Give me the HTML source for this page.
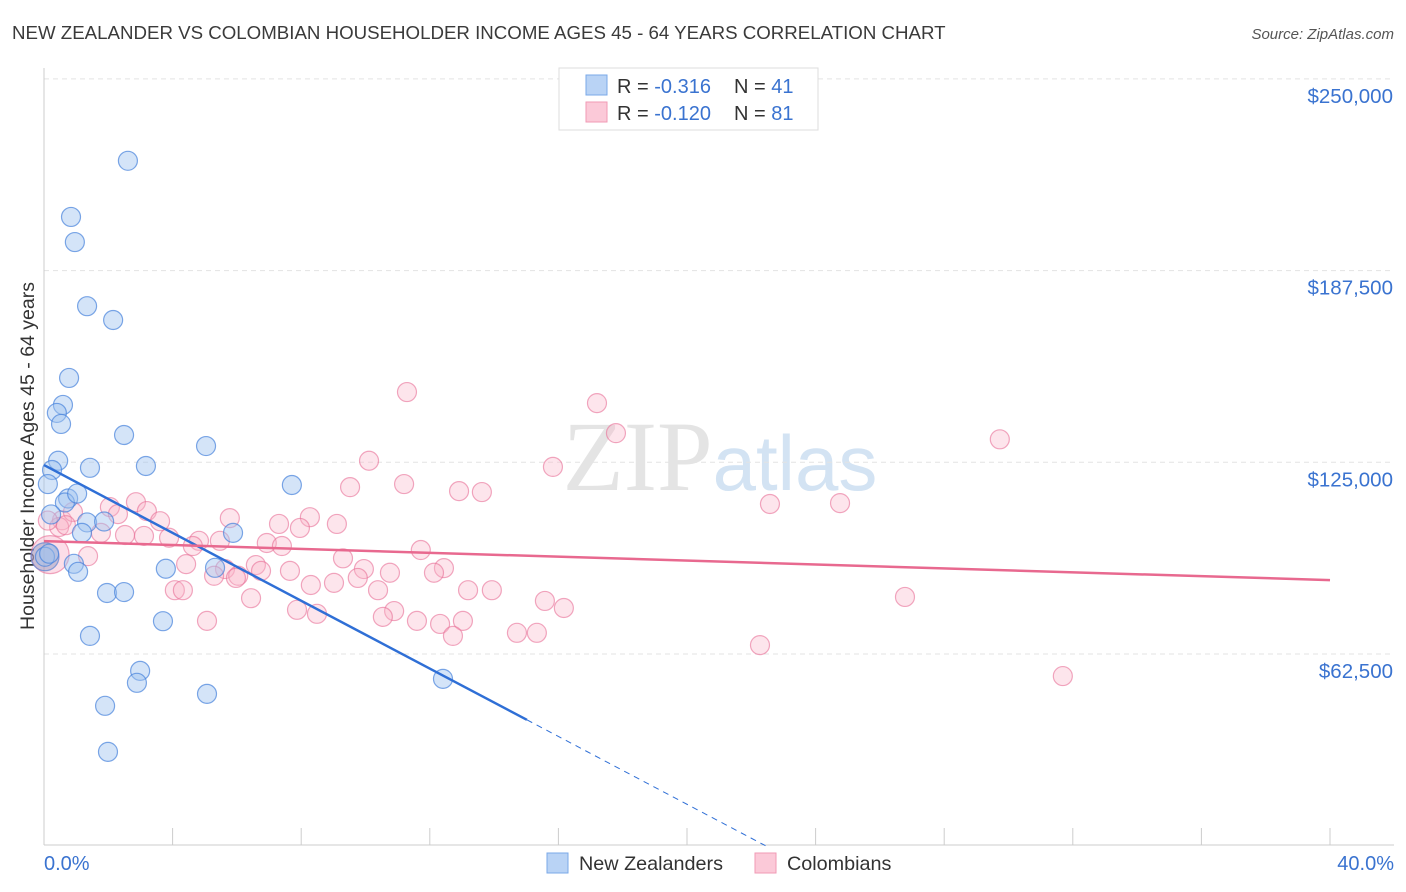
<!DOCTYPE html>
<html><head><meta charset="utf-8"><style>
body{margin:0;background:#fff;font-family:"Liberation Sans",sans-serif;}
svg{display:block}
</style></head><body>
<svg id="chart" width="1406" height="892" xmlns="http://www.w3.org/2000/svg">
<text x="12" y="39" font-size="18.7" fill="#3a3a3a">NEW ZEALANDER VS COLOMBIAN HOUSEHOLDER INCOME AGES 45 - 64 YEARS CORRELATION CHART</text>
<text x="1394" y="39" font-size="15" fill="#555" text-anchor="end" font-style="italic">Source: ZipAtlas.com</text>
<text x="720" y="490" font-size="100" text-anchor="middle" fill="#e4e4e4" font-family="Liberation Serif">ZIP<tspan fill="#d3e3f3" font-family="Liberation Sans" font-size="78">atlas</tspan></text>
<text transform="translate(34,456) rotate(-90)" font-size="19.5" fill="#333" text-anchor="middle">Householder Income Ages 45 - 64 years</text>
<g id="grid"></g><g id="axes"></g><g id="pts"></g><g id="lines"></g>
<g>
<rect x="559" y="68" width="259" height="62" fill="#fff" stroke="#ddd"/>
<rect x="586" y="75" width="21" height="20" fill="#b9d3f5" stroke="#7aa8e8"/>
<rect x="586" y="102" width="21" height="20" fill="#fbc9d8" stroke="#f09ab5"/>
<text x="617" y="93" font-size="20" fill="#333">R = <tspan fill="#3a73d0">-0.316</tspan><tspan x="734">N = </tspan><tspan fill="#3a73d0">41</tspan></text>
<text x="617" y="120" font-size="20" fill="#333">R = <tspan fill="#3a73d0">-0.120</tspan><tspan x="734">N = </tspan><tspan fill="#3a73d0">81</tspan></text>
</g>
<g>
<rect x="547" y="853" width="21" height="20" fill="#b9d3f5" stroke="#7aa8e8"/>
<text x="579" y="870" font-size="19.8" fill="#333">New Zealanders</text>
<rect x="755" y="853" width="21" height="20" fill="#fbc9d8" stroke="#f09ab5"/>
<text x="787" y="870" font-size="19.8" fill="#333">Colombians</text>
</g>
</svg>
<script>
const yTicks=[62500,125000,187500,250000];
const yTickLabels=["$62,500","$125,000","$187,500","$250,000"];
const xTicks=[0,4,8,12,16,20,24,28,32,36,40];
const blueX=[2.61,0.84,0.96,1.34,2.15,0.78,0.59,0.40,0.53,2.49,5.04,0.44,1.43,3.17,0.25,0.12,7.71,0.75,0.65,1.03,0.22,1.34,1.87,1.18,5.88,0.03,0.16,0.93,1.06,3.79,5.32,1.96,2.49,3.70,1.43,2.99,2.89,5.07,12.41,1.90,1.99];
const blueY=[223.3,205.0,196.8,175.9,171.4,152.5,143.7,141.1,137.5,133.9,130.3,125.5,123.2,123.8,122.5,117.9,117.6,113.2,111.9,114.8,108.0,105.4,105.7,102.0,102.0,94.2,95.2,91.9,89.3,90.3,90.6,82.4,82.7,73.2,68.4,57.0,53.1,49.5,54.4,45.6,30.6];
const pinkX=[11.29,17.20,17.79,29.73,10.11,15.83,11.20,9.52,12.91,13.62,22.58,24.76,2.86,3.20,2.05,2.30,5.78,8.27,3.61,9.11,7.31,7.96,0.56,0.47,0.90,1.77,3.11,3.89,2.52,4.82,5.47,4.63,6.93,7.40,11.72,9.30,1.37,4.42,6.59,5.63,6.75,9.95,12.44,7.65,5.29,6.04,9.76,10.76,12.13,9.02,8.30,5.97,4.07,4.32,10.39,13.19,13.93,6.44,15.58,26.78,16.17,7.87,8.49,10.89,10.54,5.07,11.60,12.32,13.03,12.72,14.71,15.33,22.27,31.69,0.12,0.68];
const pinkY=[147.9,144.3,134.5,132.5,125.5,123.5,117.9,116.9,115.6,115.3,111.4,111.7,112.0,109.1,110.4,108.1,106.8,107.1,105.8,104.9,104.9,103.6,106.1,103.9,108.8,102.0,101.0,100.4,101.3,99.4,99.4,97.7,98.7,97.7,96.4,93.7,94.4,91.8,91.5,90.2,89.6,90.2,90.5,89.6,88.0,88.0,87.3,89.0,89.0,85.7,85.0,87.3,83.3,83.3,83.3,83.3,83.3,80.7,79.8,81.1,77.5,76.9,75.6,76.5,74.6,73.3,73.3,72.3,73.3,68.4,69.4,69.4,65.4,55.3,106,104.5];
const bigBlue=[0.03,94.2];const bigPink=[0.19,94.9];
const blueFit=[124.1,-5.53];const pinkFit=[99.3,-0.3175];
const NS='http://www.w3.org/2000/svg';
const sx=v=>44+v/40*1286, sy=v=>845.7-v/62.5*191.7;
function mk(tag,attrs,parent){const e=document.createElementNS(NS,tag);for(const k in attrs)e.setAttribute(k,attrs[k]);parent.appendChild(e);return e;}
const g=document.getElementById('grid'),ax=document.getElementById('axes'),P=document.getElementById('pts'),L=document.getElementById('lines');
yTicks.forEach((t,i)=>{const y=sy(t/1000);
 const l=mk('line',{x1:44,x2:1394,y1:y,y2:y,stroke:'#e3e3e3','stroke-dasharray':'5,4'},g);
 
 const tx=mk('text',{x:1393,y:y+24,'font-size':20.5,fill:'#3a73d0','text-anchor':'end'},ax);tx.textContent=yTickLabels[i];
 });
const xa=mk('line',{x1:44,x2:1394,y1:845,y2:845,stroke:'#ccc'},ax);

const ya=mk('line',{x1:44,x2:44,y1:68,y2:845,stroke:'#ccc'},ax);

xTicks.forEach(t=>{const x=sx(t);const l=mk('line',{x1:x,x2:x,y1:828,y2:845,stroke:'#ccc'},ax);
 });
const xl0=mk('text',{x:44,y:870,'font-size':20,fill:'#3a73d0'},ax);xl0.textContent='0.0%';

const xl1=mk('text',{x:1394,y:870,'font-size':20,fill:'#3a73d0','text-anchor':'end'},ax);xl1.textContent='40.0%';

function dot(x,y,r,c,s,name){const e=mk('circle',{cx:sx(x),cy:sy(y),r:r,fill:c,stroke:s,'stroke-width':1.2},P);
 }
dot(bigPink[0],bigPink[1],19,'rgba(246,160,190,0.35)','rgba(232,110,150,0.6)','colombian-point');
dot(bigBlue[0],bigBlue[1],14,'rgba(140,150,190,0.45)','rgba(90,130,210,0.7)','new-zealander-point');
pinkX.forEach((x,i)=>dot(x,pinkY[i],9.5,'rgba(248,180,200,0.35)','rgba(232,110,150,0.6)','colombian-point'));
blueX.forEach((x,i)=>dot(x,blueY[i],9.5,'rgba(160,195,240,0.45)','rgba(70,130,220,0.7)','new-zealander-point'));
const bEnd=15.02, bZero=-blueFit[0]/blueFit[1];
const b1=mk('line',{x1:sx(0),y1:sy(blueFit[0]),x2:sx(bEnd),y2:sy(blueFit[0]+blueFit[1]*bEnd),stroke:'#2f6fd6','stroke-width':2.5},L);

const b2=mk('line',{x1:sx(bEnd),y1:sy(blueFit[0]+blueFit[1]*bEnd),x2:sx(bZero),y2:sy(0),stroke:'#2f6fd6','stroke-width':1,'stroke-dasharray':'6,5'},L);

const p1=mk('line',{x1:sx(0),y1:sy(pinkFit[0]),x2:sx(40),y2:sy(pinkFit[0]+pinkFit[1]*40),stroke:'#e8698f','stroke-width':2.5},L);

</script>
</body></html>
